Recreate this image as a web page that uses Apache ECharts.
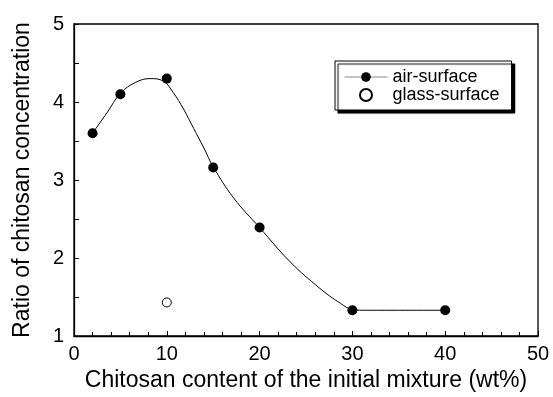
<!DOCTYPE html>
<html>
<head>
<meta charset="utf-8">
<script src="https://cdn.jsdelivr.net/npm/echarts@6/dist/echarts.min.js"></script>
<style>
  html, body { margin: 0; padding: 0; background: #fff; }
  #chart { width: 553px; height: 397px; }
</style>
</head>
<body>
<div id="chart"></div>
<script>
// measured points
var airX = [2, 5, 10, 15, 20, 30, 40];
var airY = [3.6, 4.1, 4.3, 3.16, 2.39, 1.33, 1.33];
var glassX = [10];
var glassY = [1.43];
// fitted curve
var curveX = [2, 3.6, 5, 6.6, 8.2, 9.6, 10.7, 11.8, 12.9, 14, 15, 17.2, 20, 23.3, 26.5, 28.7, 30, 31.5, 40];
var curveY = [3.6, 3.87, 4.11, 4.25, 4.30, 4.27, 4.12, 3.91, 3.66, 3.41, 3.17, 2.77, 2.39, 1.95, 1.61, 1.42, 1.34, 1.33, 1.33];

function pairs(xs, ys) {
    var out = [];
    for (var i = 0; i < xs.length; i++) {
        out.push([xs[i], ys[i]]);
    }
    return out;
}

var font = 'Liberation Sans, Arial, Helvetica, sans-serif';
var chart = echarts.init(document.getElementById('chart'));

var option = {
    animation: false,
    textStyle: { fontFamily: font, color: '#000' },
    grid: {
        left: 74, right: 15, top: 24, bottom: 57,
        show: true, borderColor: '#000', borderWidth: 1.3
    },
    legend: {
        orient: 'vertical',
        left: 335, top: 61,
        data: [
            { name: 'air-surface', lineStyle: { color: '#888', width: 1 } },
            { name: 'glass-surface' }
        ],
        itemWidth: 43, itemHeight: 12, itemGap: 0, itemTextGap: 6,
        padding: [7, 12, 6, 9],
        backgroundColor: '#fff',
        borderColor: '#000', borderWidth: 1,
        shadowColor: '#000', shadowBlur: 1, shadowOffsetX: 3, shadowOffsetY: 3,
        textStyle: { fontSize: 18, color: '#000', fontFamily: font },
        selectedMode: false
    },
    xAxis: {
        type: 'value',
        min: 0, max: 50, interval: 10,
        name: 'Chitosan content of the initial mixture (wt%)',
        nameLocation: 'middle', nameGap: 33,
        nameTextStyle: { fontSize: 23, color: '#000', fontFamily: font },
        axisLine: { lineStyle: { color: '#000', width: 1.3 } },
        axisTick: { inside: true, length: 5, lineStyle: { color: '#000' } },
        minorTick: { show: true, splitNumber: 5, length: 4, lineStyle: { color: '#000' } },
        axisLabel: { fontSize: 20, color: '#000', margin: 8, fontFamily: font },
        splitLine: { show: false }
    },
    yAxis: {
        type: 'value',
        min: 1, max: 5, interval: 1,
        name: 'Ratio of chitosan concentration',
        nameLocation: 'middle', nameGap: 40,
        nameTextStyle: { fontSize: 23, color: '#000', fontFamily: font },
        axisLine: { show: true, lineStyle: { color: '#000', width: 1.3 } },
        axisTick: { show: true, inside: true, length: 5, lineStyle: { color: '#000' } },
        minorTick: { show: true, splitNumber: 2, length: 5, lineStyle: { color: '#000' } },
        axisLabel: { fontSize: 20, color: '#000', margin: 10, fontFamily: font },
        splitLine: { show: false }
    },
    series: [
        {
            name: 'air-surface',
            type: 'line',
            data: pairs(curveX, curveY),
            smooth: 0.4,
            showSymbol: false,
            symbol: 'circle',
            symbolSize: 10,
            itemStyle: { color: '#000' },
            lineStyle: { color: '#000', width: 1 },
            silent: true,
            z: 2
        },
        {
            name: 'air points',
            type: 'scatter',
            data: pairs(airX, airY),
            symbol: 'circle',
            symbolSize: 10,
            itemStyle: { color: '#000', opacity: 1 },
            z: 3
        },
        {
            name: 'glass-surface',
            type: 'scatter',
            data: pairs(glassX, glassY),
            symbol: 'circle',
            symbolSize: 9,
            itemStyle: { color: '#fff', borderColor: '#000', borderWidth: 1, opacity: 1 },
            z: 3
        }
    ]
};

chart.setOption(option);
window.onresize = chart.resize;
</script>
</body>
</html>
